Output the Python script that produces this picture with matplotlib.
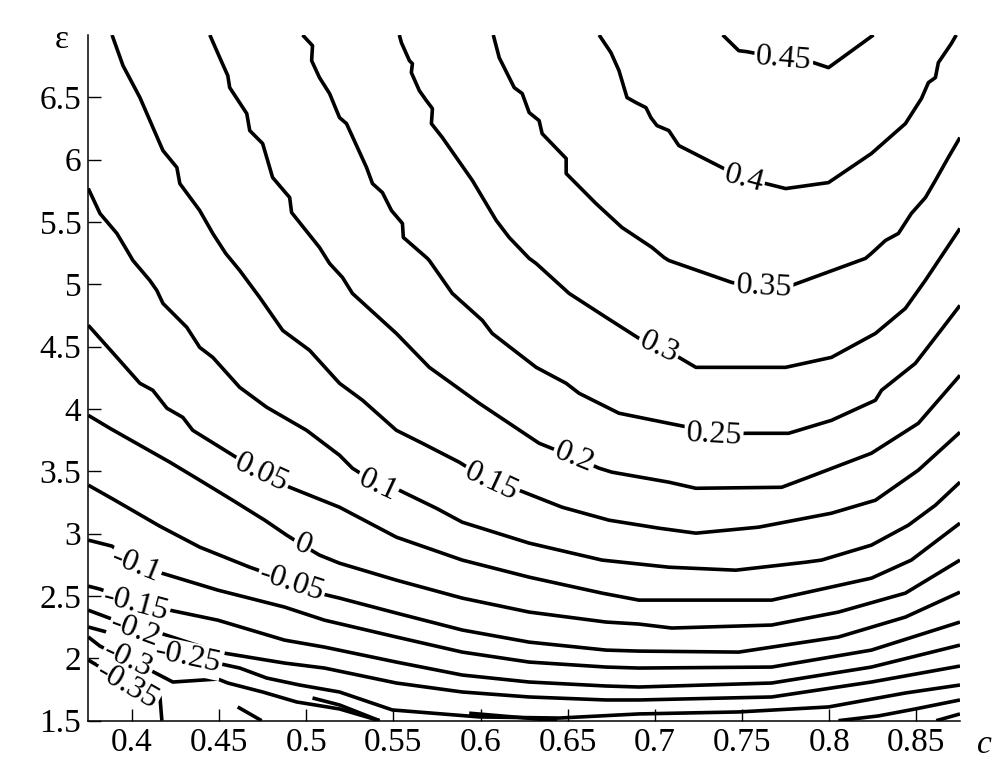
import matplotlib
matplotlib.use('Agg')
import matplotlib.pyplot as plt

# ---- contour lines: c (x) and epsilon (y) ----
c_045 = [0.7389, 0.7481, 0.7527, 0.7739, 0.7910, 0.7996, 0.8254]
eps_045 = [7.0, 6.874, 6.866, 6.810, 6.778, 6.738, 7.0]

c_040 = [0.6680, 0.6748, 0.6794, 0.6840, 0.6891, 0.6949, 0.6977, 0.7012, 0.7080, 0.7137,
         0.7384, 0.7510, 0.7636, 0.7750, 0.7996, 0.8242, 0.8437, 0.8529, 0.8569, 0.8609,
         0.8626, 0.8700, 0.8729]
eps_040 = [7.0, 6.858, 6.714, 6.498, 6.458, 6.417, 6.337, 6.273, 6.233, 6.113,
           5.937, 5.849, 5.808, 5.768, 5.816, 6.049, 6.289, 6.490, 6.618, 6.658,
           6.778, 6.930, 7.0]

c_035 = [0.6073, 0.6107, 0.6193, 0.6239, 0.6279, 0.6336, 0.6353, 0.6491, 0.6491, 0.6662,
         0.6811, 0.6983, 0.7052, 0.7080, 0.7441, 0.7624, 0.7784, 0.8208, 0.8242, 0.8323,
         0.8397, 0.8471, 0.8552, 0.8609, 0.8683, 0.875]
eps_035 = [7.0, 6.818, 6.578, 6.530, 6.377, 6.313, 6.209, 6.009, 5.889, 5.648,
           5.456, 5.296, 5.216, 5.191, 5.015, 4.975, 4.991, 5.208, 5.248, 5.352,
           5.408, 5.568, 5.696, 5.833, 6.017, 6.177]

c_030 = [0.5534, 0.5546, 0.5592, 0.5609, 0.5603, 0.5649, 0.5689, 0.5724, 0.5718, 0.5781,
         0.5953, 0.6090, 0.6164, 0.6279, 0.6319, 0.6508, 0.6720, 0.6909, 0.7023, 0.7138,
         0.7235, 0.7750, 0.8013, 0.8265, 0.8437, 0.8551, 0.8666, 0.875]
eps_030 = [7.0, 6.938, 6.794, 6.770, 6.698, 6.553, 6.474, 6.409, 6.289, 6.177,
           5.833, 5.512, 5.376, 5.208, 5.167, 4.927, 4.735, 4.566, 4.495, 4.414,
           4.334, 4.334, 4.414, 4.606, 4.807, 5.031, 5.272, 5.448]

c_025 = [0.4979, 0.5036, 0.5031, 0.5076, 0.5134, 0.5191, 0.5231, 0.5346, 0.5380, 0.5437,
         0.5489, 0.5552, 0.5557, 0.5695, 0.5706, 0.5838, 0.6010, 0.6067, 0.6319, 0.6491,
         0.6565, 0.6794, 0.7080, 0.7195, 0.7338, 0.7521, 0.7767, 0.8013, 0.8265, 0.8300,
         0.8494, 0.8609, 0.875]
eps_025 = [7.0, 6.914, 6.794, 6.658, 6.530, 6.337, 6.289, 5.937, 5.808, 5.736,
           5.592, 5.488, 5.376, 5.208, 5.191, 4.927, 4.711, 4.606, 4.334, 4.206,
           4.126, 3.966, 3.885, 3.853, 3.789, 3.805, 3.805, 3.909, 4.070, 4.150,
           4.366, 4.574, 4.831]

c_020 = [0.4447, 0.4504, 0.4550, 0.4561, 0.4659, 0.4676, 0.4750, 0.4807, 0.4905, 0.4916,
         0.5076, 0.5134, 0.5208, 0.5265, 0.5517, 0.5706, 0.5992, 0.6336, 0.6536, 0.6680,
         0.6754, 0.7080, 0.7235, 0.7727, 0.7882, 0.8242, 0.8511, 0.875]
eps_020 = [7.0, 6.818, 6.674, 6.578, 6.369, 6.233, 6.129, 5.857, 5.696, 5.576,
           5.296, 5.167, 5.055, 4.927, 4.606, 4.334, 4.046, 3.725, 3.613, 3.525,
           3.493, 3.413, 3.364, 3.372, 3.453, 3.645, 3.885, 4.270]

c_015 = [0.3886, 0.3949, 0.4046, 0.4178, 0.4258, 0.4275, 0.4389, 0.4464, 0.4538, 0.4618,
         0.4733, 0.4865, 0.5019, 0.5191, 0.5323, 0.5517, 0.5666, 0.5878, 0.6061, 0.6221,
         0.6468, 0.6737, 0.7023, 0.7235, 0.7595, 0.8013, 0.8265, 0.8511, 0.875]
eps_015 = [7.0, 6.754, 6.498, 6.073, 5.937, 5.808, 5.592, 5.408, 5.248, 5.112,
           4.895, 4.630, 4.471, 4.206, 4.070, 3.829, 3.725, 3.573, 3.413, 3.348,
           3.212, 3.108, 3.044, 3.004, 3.052, 3.164, 3.268, 3.509, 3.813]

c_010 = [0.375, 0.3817, 0.3914, 0.3972, 0.4006, 0.4103, 0.4143, 0.4178, 0.4315, 0.4389,
         0.4464, 0.4618, 0.4773, 0.5002, 0.5191, 0.5265, 0.5409, 0.5534, 0.5746, 0.5895,
         0.6279, 0.6697, 0.7080, 0.7464, 0.7865, 0.7956, 0.8242, 0.8454, 0.8609, 0.875]
eps_010 = [5.768, 5.568, 5.408, 5.272, 5.191, 5.031, 4.951, 4.847, 4.655, 4.494,
           4.414, 4.174, 4.014, 3.829, 3.629, 3.525, 3.397, 3.348, 3.204, 3.092,
           2.924, 2.788, 2.731, 2.707, 2.771, 2.788, 2.908, 3.068, 3.228, 3.413]

c_005 = [0.375, 0.3914, 0.4046, 0.4120, 0.4201, 0.4292, 0.4349, 0.4561, 0.4744, 0.4905,
         0.5191, 0.5517, 0.5895, 0.6279, 0.6697, 0.6908, 0.7670, 0.8242, 0.8471, 0.875]
eps_005 = [4.671, 4.414, 4.206, 4.150, 4.006, 3.933, 3.829, 3.645, 3.485, 3.372,
           3.212, 2.972, 2.788, 2.651, 2.523, 2.467, 2.467, 2.643, 2.788, 3.084]

c_000 = [0.375, 0.3874, 0.4046, 0.4218, 0.4389, 0.4578, 0.4762, 0.4888, 0.4979, 0.5076,
         0.5191, 0.5517, 0.5895, 0.6279, 0.6720, 0.6908, 0.7097, 0.7670, 0.8053, 0.8437,
         0.875]
eps_000 = [3.949, 3.845, 3.709, 3.573, 3.429, 3.268, 3.108, 2.988, 2.908, 2.828,
           2.763, 2.627, 2.483, 2.371, 2.291, 2.275, 2.243, 2.267, 2.371, 2.523,
           2.788]

c_m005 = [0.375, 0.3903, 0.4160, 0.4389, 0.4676, 0.4790, 0.4916, 0.5048, 0.5191, 0.5517,
          0.5895, 0.6279, 0.6720, 0.6908, 0.7481, 0.8053, 0.8437, 0.875]
eps_m005 = [3.389, 3.268, 3.060, 2.892, 2.731, 2.675, 2.603, 2.531, 2.483, 2.363,
            2.227, 2.130, 2.066, 2.058, 2.050, 2.171, 2.331, 2.531]

c_m010 = [0.375, 0.3886, 0.4029, 0.4172, 0.4493, 0.4876, 0.5105, 0.5517, 0.5895, 0.6279,
          0.6720, 0.6908, 0.7670, 0.8242, 0.875]
eps_m010 = [2.948, 2.900, 2.747, 2.683, 2.547, 2.411, 2.306, 2.171, 2.050, 1.970,
            1.930, 1.922, 1.930, 2.066, 2.291]

c_m015 = [0.375, 0.3817, 0.4035, 0.4218, 0.4493, 0.4876, 0.5105, 0.5517, 0.5895, 0.6279,
          0.6720, 0.6908, 0.7670, 0.8242, 0.875]
eps_m015 = [2.579, 2.555, 2.443, 2.386, 2.306, 2.146, 2.090, 1.970, 1.866, 1.810,
            1.778, 1.770, 1.802, 1.930, 2.106]

c_m020 = [0.375, 0.3903, 0.4035, 0.4160, 0.4493, 0.4876, 0.5105, 0.5517, 0.5895, 0.6279,
          0.6720, 0.6908, 0.7670, 0.8242, 0.875]
eps_m020 = [2.386, 2.306, 2.226, 2.203, 2.050, 1.962, 1.922, 1.802, 1.730, 1.690,
            1.666, 1.666, 1.690, 1.810, 1.938]

c_m025 = [0.375, 0.3920, 0.4115, 0.4321, 0.4487, 0.4619, 0.4773, 0.4962, 0.5191, 0.5494,
          0.5992, 0.6450, 0.6908, 0.7481, 0.7996, 0.8437, 0.875]
eps_m025 = [2.251, 2.187, 2.090, 2.002, 1.962, 1.922, 1.842, 1.786, 1.730, 1.586,
            1.530, 1.521, 1.554, 1.570, 1.610, 1.722, 1.786]

c_m030 = [0.375, 0.3817, 0.3977, 0.4103, 0.4235, 0.4493, 0.4550, 0.4750, 0.4945, 0.5191,
          0.5420]
eps_m030 = [2.171, 2.098, 1.986, 1.906, 1.810, 1.834, 1.802, 1.730, 1.650, 1.594,
            1.500]
c_m030_right = [0.8053, 0.8282, 0.8494, 0.875]
eps_m030_right = [1.500, 1.538, 1.594, 1.666]

c_m035 = [0.375, 0.3828, 0.3972, 0.4132, 0.4160, 0.4172]
eps_m035 = [1.986, 1.922, 1.778, 1.722, 1.706, 1.500]
c_m035_right = [0.8614, 0.875]
eps_m035_right = [1.500, 1.554]

# small fragments close to the lower edge
c_frag1 = [0.4607, 0.4744]
eps_frag1 = [1.610, 1.500]
c_frag2 = [0.5036, 0.5191, 0.5420]
eps_frag2 = [1.682, 1.626, 1.500]
c_frag3 = [0.5935, 0.6439]
eps_frag3 = [1.560, 1.500]

# ---- contour labels ----
label_text = ['0.45', '0.4', '0.35', '0.3', '0.25', '0.2', '0.15', '0.1', '0.05', '0',
              '-0.05', '-0.1', '-0.15', '-0.2', '-0.25', '-0.3', '-0.35']
label_c = [0.7739, 0.7510, 0.7624, 0.7023, 0.7338, 0.6536, 0.6061, 0.5409, 0.4744, 0.4979,
           0.4916, 0.4023, 0.4023, 0.4018, 0.4321, 0.3977, 0.3972]
label_eps = [6.810, 5.849, 4.975, 4.495, 3.789, 3.613, 3.413, 3.389, 3.485, 2.908,
             2.603, 2.747, 2.435, 2.219, 2.002, 1.986, 1.778]
label_rot = [-5, -15, -3, -25, -3, -22, -25, -25, -25, -22,
             -18, -22, -15, -20, -12, -25, -30]

x_ticks = [0.4, 0.45, 0.5, 0.55, 0.6, 0.65, 0.7, 0.75, 0.8, 0.85]
x_tick_labels = ['0.4', '0.45', '0.5', '0.55', '0.6', '0.65', '0.7', '0.75', '0.8', '0.85']
y_ticks = [1.5, 2, 2.5, 3, 3.5, 4, 4.5, 5, 5.5, 6, 6.5]
y_tick_labels = ['1.5', '2', '2.5', '3', '3.5', '4', '4.5', '5', '5.5', '6', '6.5']

# ---------------------------------------------------------------------------
plt.rcParams['font.family'] = ['Liberation Serif', 'DejaVu Serif']

fig = plt.figure(figsize=(10.07, 7.77), dpi=100)
ax = fig.add_axes([0.0877, 0.0725, 0.8656, 0.8825])

lines = [
    (c_045, eps_045), (c_040, eps_040), (c_035, eps_035), (c_030, eps_030),
    (c_025, eps_025), (c_020, eps_020), (c_015, eps_015), (c_010, eps_010),
    (c_005, eps_005), (c_000, eps_000), (c_m005, eps_m005), (c_m010, eps_m010),
    (c_m015, eps_m015), (c_m020, eps_m020), (c_m025, eps_m025), (c_m030, eps_m030),
    (c_m030_right, eps_m030_right), (c_m035, eps_m035), (c_m035_right, eps_m035_right),
    (c_frag1, eps_frag1), (c_frag2, eps_frag2), (c_frag3, eps_frag3),
]
for xs, ys in lines:
    ax.plot(xs, ys, color='black', lw=2.6, solid_joinstyle='round',
            solid_capstyle='butt', zorder=2)

for t, x, y, r in zip(label_text, label_c, label_eps, label_rot):
    ax.text(x, y, t, rotation=r, rotation_mode='anchor', ha='center', va='center',
            fontsize=23, zorder=3,
            bbox=dict(boxstyle='square,pad=0.05', fc='white', ec='none'))

ax.set_xlim(0.375, 0.875)
ax.set_ylim(1.5, 7.0)
ax.set_xticks(x_ticks)
ax.set_xticklabels(x_tick_labels)
ax.set_yticks(y_ticks)
ax.set_yticklabels(y_tick_labels)
ax.tick_params(direction='in', length=9, width=1.0, labelsize=24, pad=5)
for s in ['top', 'right']:
    ax.spines[s].set_visible(False)
for s in ['left', 'bottom']:
    ax.spines[s].set_linewidth(1.1)

fig.text(62 / 1007, 1 - 40 / 777, 'ε', ha='center', va='center', fontsize=24)
fig.text(984 / 1007, 1 - 745 / 777, 'c', ha='center', va='center', fontsize=24,
         style='italic')

fig.savefig('out.png', dpi=100)
